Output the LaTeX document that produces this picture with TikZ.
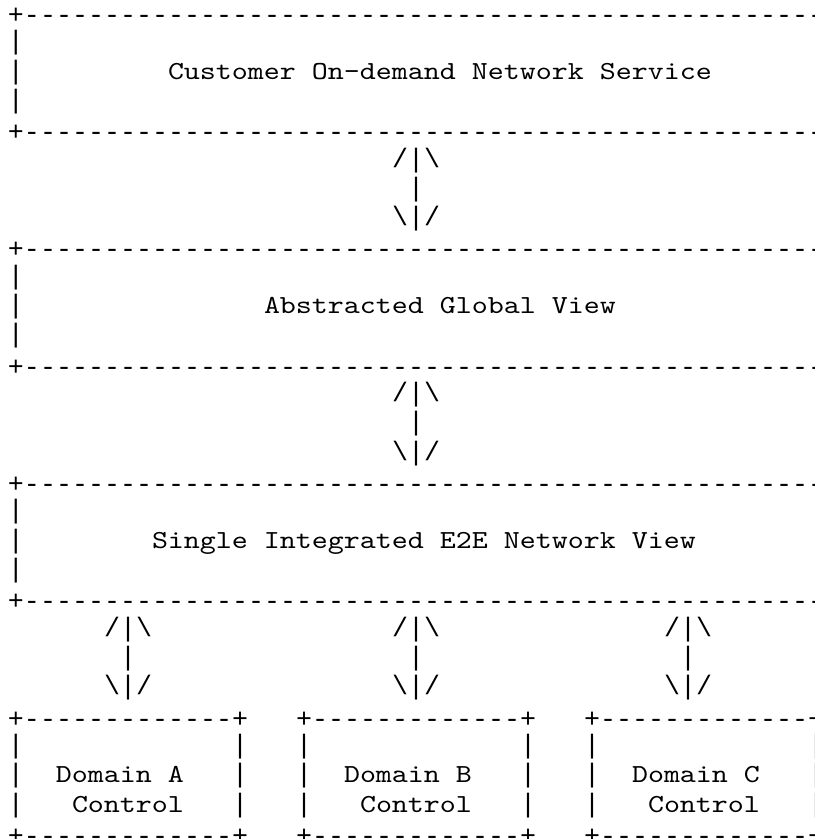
\documentclass[tikz,border=0pt]{standalone}
\usepackage{fontspec}
% frame characters
\setmonofont{Liberation Mono}
% labels: slab-serif typewriter face, widened to the same 16pt pitch
\newfontfamily\wordfont{lmmono10-regular.otf}[FakeStretch=1.172]
\tikzset{
  asc/.style={anchor=base west, inner sep=0pt, outer sep=0pt,
    font=\ttfamily\fontsize{26.667pt}{29.32pt}\selectfont, text=black},
  edge/.style={asc, yshift=-3pt},
  words/.style={asc, font=\wordfont\fontsize{26pt}{29.32pt}\selectfont},
}
% character-cell helpers
\newcommand\wideedge{+-------------------------------------------------------}
\newcommand\smalledge{+-------------+}
\begin{document}
\begin{tikzpicture}
\useasboundingbox (0,0) rectangle (815pt,-839pt);
\clip (0,0) rectangle (814pt,-839pt);
\begin{scope}[x=16pt, y=-29.32pt, shift={(8pt,-20.4pt)}]
  % layer 1: customer service
  \node[edge] (svcTop) at (0,0) {\wideedge};
  \foreach \r in {1,2,3} \node[asc] (svcSide\r) at (0,\r) {|};
  \node[words] (svc) at (10,2) {Customer On-demand Network Service};
  \node[edge] (svcBot) at (0,4) {\wideedge};
  % double arrow 1
  \node[asc] (arrA1) at (24,5) {/|\textbackslash};
  \node[asc] (arrA2) at (25,6) {|};
  \node[asc] (arrA3) at (24,7) {\textbackslash|/};
  % layer 2: abstracted view
  \node[edge] (absTop) at (0,8) {\wideedge};
  \foreach \r in {9,10,11} \node[asc] (absSide\r) at (0,\r) {|};
  \node[words] (abs) at (16,10) {Abstracted Global View};
  \node[edge] (absBot) at (0,12) {\wideedge};
  % double arrow 2
  \node[asc] (arrB1) at (24,13) {/|\textbackslash};
  \node[asc] (arrB2) at (25,14) {|};
  \node[asc] (arrB3) at (24,15) {\textbackslash|/};
  % layer 3: integrated network view
  \node[edge] (e2eTop) at (0,16) {\wideedge};
  \foreach \r in {17,18,19} \node[asc] (e2eSide\r) at (0,\r) {|};
  \node[words] (e2e) at (9,18) {Single Integrated E2E Network View};
  \node[edge] (e2eBot) at (0,20) {\wideedge};
  % arrows down to the domains
  \foreach \c/\n in {6/A,24/B,41/C} {
    \node[asc] (arr\n1) at (\c,21) {/|\textbackslash};
    \node[asc] (arr\n2) at (\c+1,22) {|};
    \node[asc] (arr\n3) at (\c,23) {\textbackslash|/};
  }
  % domain controllers
  \foreach \c/\n in {0/A,18/B,36/C} {
    \node[edge] (dom\n Top) at (\c,24) {\smalledge};
    \foreach \r in {25,26,27} {
      \node[asc] (dom\n L\r) at (\c,\r) {|};
      \node[asc] (dom\n R\r) at (\c+14,\r) {|};
    }
    \node[words] (dom\n) at (\c+3,26) {Domain \n};
    \node[words] (dom\n Ctl) at (\c+4,27) {Control};
    \node[edge] (dom\n Bot) at (\c,28) {\smalledge};
  }
\end{scope}
\end{tikzpicture}
\end{document}
